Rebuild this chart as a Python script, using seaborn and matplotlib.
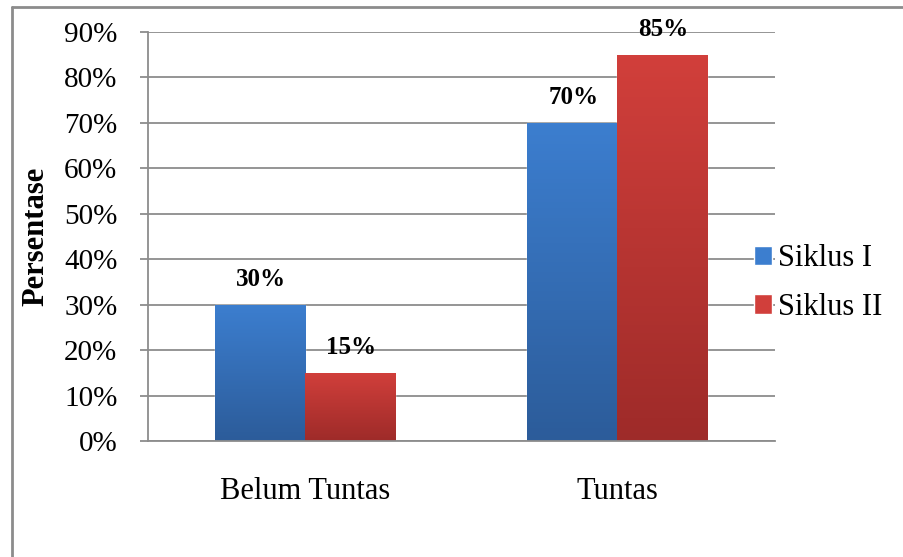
import numpy as np
import pandas as pd
import matplotlib
matplotlib.use("Agg")
import matplotlib.pyplot as plt
import matplotlib.lines as mlines
import matplotlib.colors as mcolors
import seaborn as sns

# Data
kategori = ["Belum Tuntas", "Tuntas"]
siklus_1 = [30, 70]
siklus_2 = [15, 85]
seri = ["Siklus I", "Siklus II"]
y_ticks = [0, 10, 20, 30, 40, 50, 60, 70, 80, 90]

# Warna (atas, bawah) untuk gradien
BIRU = ("#3C7ECF", "#2C5C9A")
MERAH = ("#D13F3B", "#9E2B29")
GRID = "#8C8C8C"

df = pd.DataFrame({
    "kategori": kategori * 2,
    "nilai": siklus_1 + siklus_2,
    "seri": [seri[0]] * len(kategori) + [seri[1]] * len(kategori),
})

sns.set_style("white")
plt.rcParams["font.family"] = ["Liberation Serif", "DejaVu Serif"]
plt.rcParams["text.color"] = "black"
plt.rcParams["xtick.labelcolor"] = "black"
plt.rcParams["ytick.labelcolor"] = "black"
plt.rcParams["axes.labelcolor"] = "black"

fig = plt.figure(figsize=(9.04, 5.57), dpi=100)
ax = fig.add_axes([148 / 904, 1 - 441 / 557, (775 - 148) / 904, (441 - 32) / 557])

sns.barplot(data=df, x="kategori", y="nilai", hue="seri",
            palette=[BIRU[0], MERAH[0]], width=0.577, gap=0,
            saturation=1, ax=ax, legend=True)

# gradien vertikal pada tiap batang
warna_seri = [BIRU] * len(kategori) + [MERAH] * len(kategori)
bars = [p for p in ax.patches if p.get_height() > 0]
for bar, (atas, bawah) in zip(bars, warna_seri):
    x0, w, h = bar.get_x(), bar.get_width(), bar.get_height()
    cmap = mcolors.LinearSegmentedColormap.from_list("g", [bawah, atas])
    grad = np.linspace(0, 1, 100).reshape(-1, 1)
    im = ax.imshow(grad, cmap=cmap, origin="lower", aspect="auto",
                   extent=[x0, x0 + w, 0, h], zorder=bar.get_zorder() + 0.1)
    im.set_clip_path(bar)
    # label nilai
    ax.annotate(f"{h:.0f}%", (x0 + w / 2, h), xytext=(1, 18),
                textcoords="offset points", ha="center", va="center",
                fontsize=18, fontweight="bold")

ax.set_xlim(-0.503, 1.506)
ax.set_ylim(0, 90)
ax.set_yticks(y_ticks)
ax.set_yticklabels([f"{t}%" for t in y_ticks])
ax.yaxis.grid(True, color=GRID, linewidth=1.3)
ax.set_axisbelow(True)

for s in ["top", "right"]:
    ax.spines[s].set_visible(False)
for s in ["left", "bottom"]:
    ax.spines[s].set_color(GRID)
    ax.spines[s].set_linewidth(1.3)

ax.tick_params(axis="y", length=6, width=1.3, color=GRID, pad=16, labelsize=21, left=True)
ax.tick_params(axis="x", length=0, pad=26, labelsize=22)
ax.set_xlabel("")
ax.set_ylabel("Persentase", fontsize=22, fontweight="bold")
ax.yaxis.set_label_coords(-(148 - 50) / 627, 0.5)

# legenda
handles, labels = ax.get_legend_handles_labels()
ax.legend(handles, labels, loc="center left",
          bbox_to_anchor=(754 / 904, 1 - 283 / 557), bbox_transform=fig.transFigure,
          frameon=False, fontsize=22, handlelength=0.6, handleheight=0.6,
          handletextpad=0.2, labelspacing=0.65, borderpad=0, borderaxespad=0)

# bingkai gambar
fig.add_artist(mlines.Line2D([12 / 904, 12 / 904], [0, 1 - 7 / 557],
                             transform=fig.transFigure, color=GRID, lw=2))
fig.add_artist(mlines.Line2D([12 / 904, 1], [1 - 7 / 557, 1 - 7 / 557],
                             transform=fig.transFigure, color=GRID, lw=2))

fig.savefig("out.png", dpi=100)
